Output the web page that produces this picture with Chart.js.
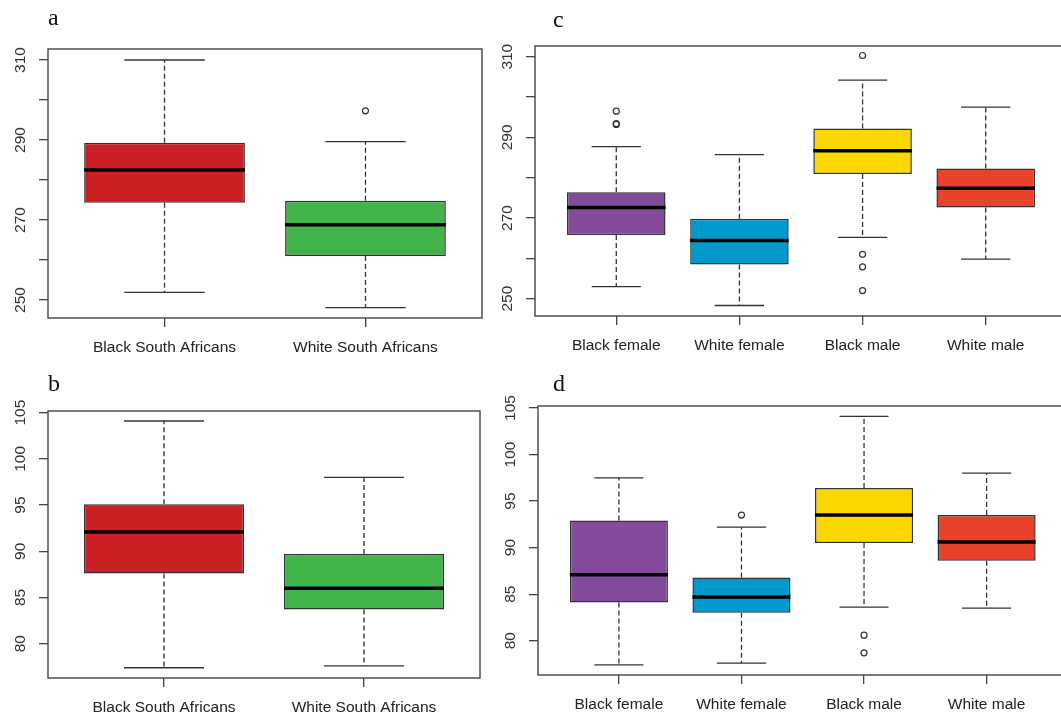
<!DOCTYPE html>
<html>
<head>
<meta charset="utf-8">
<script src="https://cdn.jsdelivr.net/npm/chart.js@4/dist/chart.umd.min.js"></script>
<style>
  html, body { margin: 0; padding: 0; background: #fff; }
  body { width: 1061px; height: 713px; overflow: hidden; position: relative; }
  canvas { position: absolute; }
</style>
</head>
<body>
<canvas id="chartA" width="500" height="360" style="left:0;top:0"></canvas>
<canvas id="chartB" width="500" height="360" style="left:0;top:360px"></canvas>
<canvas id="chartC" width="580" height="360" style="left:500px;top:0"></canvas>
<canvas id="chartD" width="580" height="360" style="left:500px;top:360px"></canvas>
<script>
'use strict';

const raceGroups = ['Black South Africans', 'White South Africans'];
const raceSexGroups = ['Black female', 'White female', 'Black male', 'White male'];

// panel a
const aLow = [251.9, 248.1];
const aQ1 = [274.3, 261.0];
const aMed = [282.5, 268.8];
const aQ3 = [289.3, 274.8];
const aHigh = [310.0, 289.6];
const aOut = [[], [297.3]];

// panel b
const bLow = [77.4, 77.6];
const bQ1 = [87.6, 83.7];
const bMed = [92.1, 86.0];
const bQ3 = [95.1, 89.7];
const bHigh = [104.1, 98.0];
const bOut = [[], []];

// panel c
const cLow = [253.0, 248.3, 265.2, 259.8];
const cQ1 = [265.8, 258.5, 280.9, 272.6];
const cMed = [272.6, 264.4, 286.7, 277.4];
const cQ3 = [276.4, 269.8, 292.2, 282.3];
const cHigh = [287.7, 285.7, 304.2, 297.5];
const cOut = [[296.5, 293.4, 293.2], [], [310.3, 261.0, 257.9, 252.0], []];

// panel d
const dLow = [77.4, 77.6, 83.6, 83.5];
const dQ1 = [84.1, 83.0, 90.5, 88.6];
const dMed = [87.1, 84.7, 93.5, 90.6];
const dQ3 = [92.9, 86.8, 96.4, 93.5];
const dHigh = [97.5, 92.2, 104.1, 98.0];
const dOut = [[], [93.5], [80.6, 78.7], []];

// axis ticks
const bigTicks = [250, 260, 270, 280, 290, 300, 310];
const bigLabels = [250, 270, 290, 310];
const smallTicks = [80, 85, 90, 95, 100, 105];
const smallLabels = [80, 85, 90, 95, 100, 105];

const raceColors = ['#cb1f26', '#41b44a'];
const raceSexColors = ['#844b9c', '#0099cc', '#ffd700', '#e8432a'];

const sans = '"Liberation Sans", Arial, sans-serif';

function boxParts(s) {
  return {
    id: 'boxParts',
    afterDatasetsDraw(chart) {
      const { ctx, scales: { x, y } } = chart;
      const bars = chart.getDatasetMeta(0).data;
      ctx.save();
      ctx.strokeStyle = '#333';
      ctx.lineWidth = 1.3;
      s.low.forEach((lo, i) => {
        const cx = x.getPixelForValue(i + 1);
        const half = bars[i].width / 2;
        const cap = half / 2;
        const yLo = y.getPixelForValue(lo);
        const yHi = y.getPixelForValue(s.high[i]);
        const y1 = y.getPixelForValue(s.q1[i]);
        const y3 = y.getPixelForValue(s.q3[i]);
        ctx.setLineDash([5, 3]);
        ctx.beginPath();
        ctx.moveTo(cx, y3); ctx.lineTo(cx, yHi);
        ctx.moveTo(cx, y1); ctx.lineTo(cx, yLo);
        ctx.stroke();
        ctx.setLineDash([]);
        ctx.beginPath();
        ctx.moveTo(cx - cap, yHi); ctx.lineTo(cx + cap, yHi);
        ctx.moveTo(cx - cap, yLo); ctx.lineTo(cx + cap, yLo);
        ctx.stroke();
        // median
        const ym = y.getPixelForValue(s.med[i]);
        ctx.save();
        ctx.strokeStyle = '#000';
        ctx.lineWidth = 3.5;
        ctx.beginPath();
        ctx.moveTo(cx - half, ym); ctx.lineTo(cx + half, ym);
        ctx.stroke();
        ctx.restore();
      });
      ctx.restore();
    },
    afterDraw(chart) {
      const { ctx, chartArea: a, scales: { y } } = chart;
      ctx.save();
      ctx.strokeStyle = '#444';
      ctx.lineWidth = 1.4;
      ctx.strokeRect(a.left, a.top, a.right - a.left, a.bottom - a.top);
      // y labels, rotated like R
      ctx.fillStyle = '#333';
      ctx.font = '15.5px ' + sans;
      ctx.textAlign = 'center';
      ctx.textBaseline = 'middle';
      s.labels.forEach(v => {
        ctx.save();
        ctx.translate(a.left - 27.5, y.getPixelForValue(v));
        ctx.rotate(-Math.PI / 2);
        ctx.fillText(String(v), 0, 0);
        ctx.restore();
      });
      // panel letter
      ctx.fillStyle = '#111';
      ctx.font = '24px "Liberation Serif", "Times New Roman", serif';
      ctx.textAlign = 'left';
      ctx.textBaseline = 'alphabetic';
      ctx.fillText(s.letter, s.letterX, s.letterY);
      ctx.restore();
    }
  };
}

function boxPanel(id, s) {
  const tickGrid = { drawOnChartArea: false, drawTicks: true, tickLength: 9, color: '#444', lineWidth: 1.3, offset: false };
  new Chart(document.getElementById(id), {
    type: 'bar',
    data: {
      datasets: [{
        type: 'bar',
        data: s.cats.map((c, i) => ({ x: i + 1, y: [s.q1[i], s.q3[i]] })),
        backgroundColor: s.colors,
        borderColor: '#333',
        borderWidth: 1.5,
        borderSkipped: false,
        barPercentage: 0.8,
        categoryPercentage: 1
      }, {
        type: 'scatter',
        data: s.out.flatMap((vals, i) => vals.map(v => ({ x: i + 1, y: v }))),
        pointStyle: 'circle',
        pointRadius: 3,
        pointBackgroundColor: 'rgba(255,255,255,0)',
        pointBorderColor: '#333',
        pointBorderWidth: 1.2
      }]
    },
    options: {
      responsive: false,
      animation: false,
      devicePixelRatio: 1,
      layout: { padding: { top: s.padTop, right: s.padRight, bottom: 0, left: 0 } },
      plugins: { legend: { display: false }, tooltip: { enabled: false } },
      scales: {
        x: {
          type: 'linear',
          min: s.xMin,
          max: s.xMax,
          offset: false,
          afterBuildTicks: sc => { sc.ticks = s.cats.map((c, i) => ({ value: i + 1 })); },
          afterFit: sc => { sc.height = s.xh; sc.paddingLeft = 0; sc.paddingRight = 0; },
          ticks: {
            autoSkip: false, maxRotation: 0, minRotation: 0, padding: 11,
            color: '#222', font: { family: sans, size: 15.5 },
            callback: v => s.cats[v - 1]
          },
          grid: tickGrid,
          border: { display: false }
        },
        y: {
          type: 'linear',
          min: s.yMin,
          max: s.yMax,
          afterBuildTicks: sc => { sc.ticks = s.ticks.map(v => ({ value: v })); },
          afterFit: sc => { sc.width = s.yw; },
          ticks: { display: false },
          grid: tickGrid,
          border: { display: false }
        }
      }
    },
    plugins: [boxParts(s)]
  });
}

boxPanel('chartA', {
  cats: raceGroups, colors: raceColors,
  low: aLow, q1: aQ1, med: aMed, q3: aQ3, high: aHigh, out: aOut,
  ticks: bigTicks, labels: bigLabels, yMin: 245.5, yMax: 312.75,
  xMin: 0.42, xMax: 2.58,
  yw: 48, xh: 42, padTop: 49, padRight: 18,
  letter: 'a', letterX: 48, letterY: 25
});

boxPanel('chartB', {
  cats: raceGroups, colors: raceColors,
  low: bLow, q1: bQ1, med: bMed, q3: bQ3, high: bHigh, out: bOut,
  ticks: smallTicks, labels: smallLabels, yMin: 76.29, yMax: 105.18,
  xMin: 0.42, xMax: 2.58,
  yw: 48, xh: 42, padTop: 51, padRight: 20,
  letter: 'b', letterX: 48, letterY: 31
});

boxPanel('chartC', {
  cats: raceSexGroups, colors: raceSexColors,
  low: cLow, q1: cQ1, med: cMed, q3: cQ3, high: cHigh, out: cOut,
  ticks: bigTicks, labels: bigLabels, yMin: 245.7, yMax: 312.65,
  xMin: 0.34, xMax: 4.66,
  yw: 35, xh: 44, padTop: 46, padRight: 13,
  letter: 'c', letterX: 53, letterY: 27
});

boxPanel('chartD', {
  cats: raceSexGroups, colors: raceSexColors,
  low: dLow, q1: dQ1, med: dMed, q3: dQ3, high: dHigh, out: dOut,
  ticks: smallTicks, labels: smallLabels, yMin: 76.32, yMax: 105.21,
  xMin: 0.34, xMax: 4.66,
  yw: 38, xh: 45, padTop: 46, padRight: 12.5,
  letter: 'd', letterX: 53, letterY: 31
});
</script>
</body>
</html>
